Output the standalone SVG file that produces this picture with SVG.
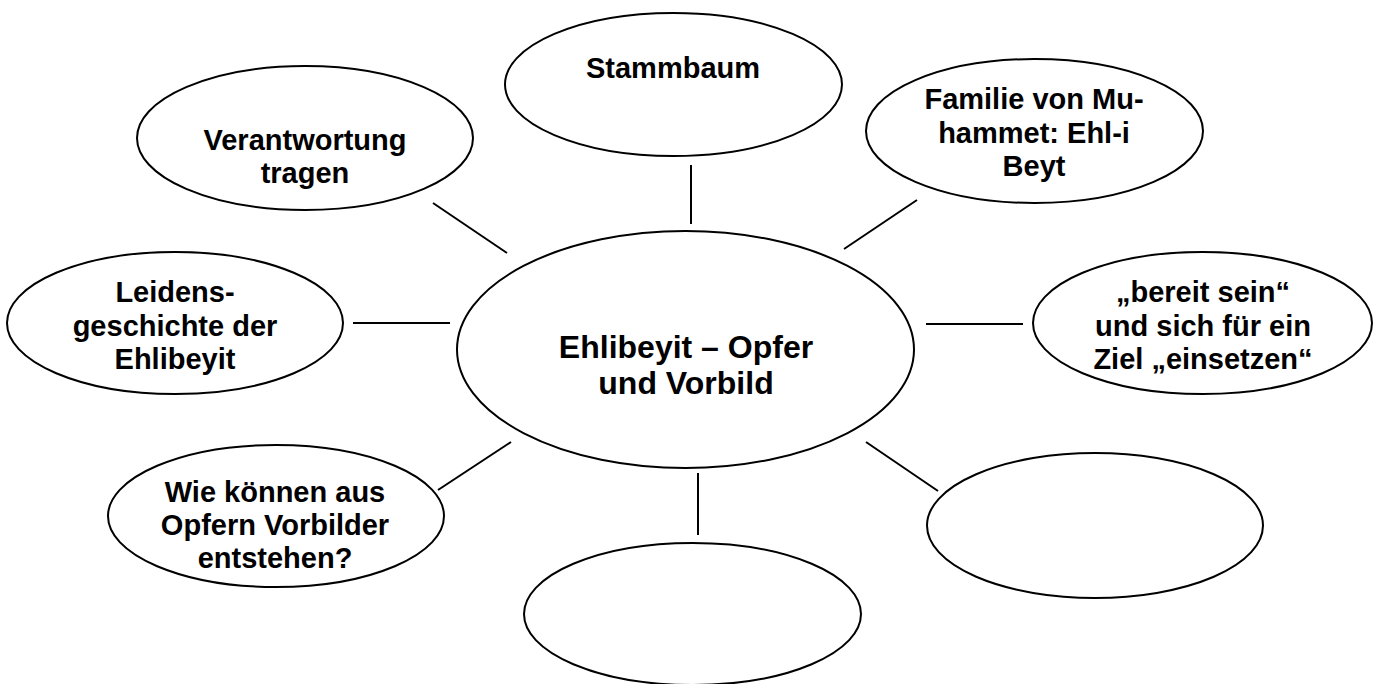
<svg xmlns="http://www.w3.org/2000/svg" width="1378" height="684" viewBox="0 0 1378 684">
<style>
.n{fill:#fff;stroke:#000;stroke-width:2}
.c line{stroke:#000;stroke-width:2}
text{font-family:"Liberation Sans",Arial,sans-serif;font-weight:bold;font-size:29px;text-anchor:middle;fill:#000}
.big{font-size:32px}
</style>
<rect width="1378" height="684" fill="#fff"/>
<g id="connectors" class="c">
<line x1="691" y1="165" x2="691" y2="224"/>
<line x1="433" y1="203" x2="507" y2="253"/>
<line x1="844" y1="249" x2="917" y2="200"/>
<line x1="353" y1="323" x2="450" y2="323"/>
<line x1="926" y1="324" x2="1023" y2="324"/>
<line x1="438" y1="490" x2="511" y2="442"/>
<line x1="698" y1="473" x2="698" y2="535"/>
<line x1="866" y1="442" x2="938" y2="491"/>
</g>
<g id="center">
<ellipse class="n" cx="685.5" cy="349.5" rx="228.5" ry="118.5"/>
<text class="big" x="686" y="358">Ehlibeyit – Opfer</text>
<text class="big" x="686" y="394">und Vorbild</text>
</g>
<g id="stammbaum">
<ellipse class="n" cx="673.5" cy="84.5" rx="168.5" ry="71.5"/>
<text x="673" y="78">Stammbaum</text>
</g>
<g id="verantwortung">
<ellipse class="n" cx="305" cy="138" rx="168" ry="72"/>
<text x="305" y="150">Verantwortung</text>
<text x="305" y="183">tragen</text>
</g>
<g id="familie">
<ellipse class="n" cx="1034.5" cy="131" rx="168.5" ry="72"/>
<text x="1034" y="109">Familie von Mu-</text>
<text x="1034" y="143">hammet: Ehl-i</text>
<text x="1034" y="176">Beyt</text>
</g>
<g id="leidens">
<ellipse class="n" cx="175" cy="323" rx="168" ry="71"/>
<text x="175" y="302">Leidens-</text>
<text x="175" y="336">geschichte der</text>
<text x="175" y="369">Ehlibeyit</text>
</g>
<g id="bereit">
<ellipse class="n" cx="1202.5" cy="323" rx="169.5" ry="71"/>
<text x="1203" y="302">„bereit sein“</text>
<text x="1203" y="336">und sich für ein</text>
<text x="1203" y="369">Ziel „einsetzen“</text>
</g>
<g id="wie">
<ellipse class="n" cx="276" cy="516" rx="168" ry="71"/>
<text x="275" y="502">Wie können aus</text>
<text x="275" y="535">Opfern Vorbilder</text>
<text x="275" y="568">entstehen?</text>
</g>
<g id="empty-bottom">
<ellipse class="n" cx="692.5" cy="614" rx="168.5" ry="71"/>
</g>
<g id="empty-right">
<ellipse class="n" cx="1095" cy="525.5" rx="168" ry="72.5"/>
</g>
</svg>
